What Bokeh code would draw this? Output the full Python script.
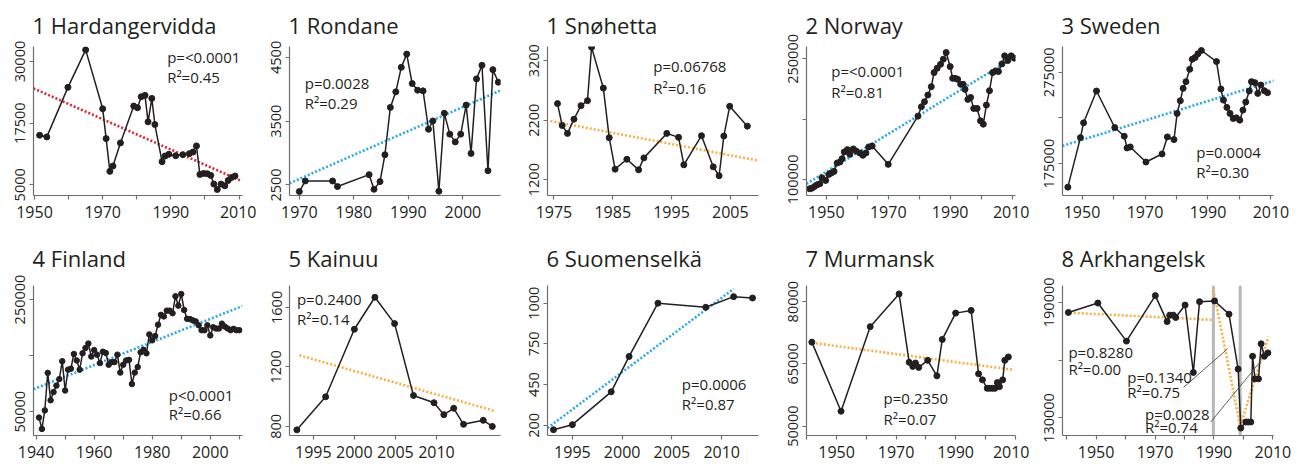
from bokeh.plotting import figure
from bokeh.models import Range1d, FixedTicker, Label, Span
from bokeh.layouts import column, row
from bokeh.embed import file_html
from bokeh.resources import INLINE

# ---------------- data ----------------
hard_year = [1951.5, 1953.6, 1959.8, 1965.0, 1970.0, 1971.0, 1972.1, 1973.0, 1975.2, 1979.1, 1980.2, 1981.3,
             1982.4, 1983.3, 1984.4, 1985.3, 1987.4, 1988.3, 1989.4, 1991.4, 1993.5, 1995.4, 1996.5, 1997.5,
             1998.5, 1999.6, 2000.7, 2001.7, 2002.6, 2003.6, 2004.7, 2005.8, 2006.8, 2007.8, 2008.8]
hard_count = [15050, 14710, 24760, 32360, 20410, 14370, 7720, 8800, 13490, 20960, 20620, 22860,
              23130, 17770, 22520, 17220, 9690, 10840, 11180, 10900, 11110, 11310, 11650, 12880,
              7100, 7310, 7240, 6900, 5140, 4050, 5140, 4800, 5880, 6490, 6770]
hard_trend_year = [1949.7, 2010.3]
hard_trend_count = [24555, 5883]

ron_year = [1970.0, 1971.1, 1976.1, 1977.0, 1982.8, 1983.7, 1984.8, 1985.7, 1986.7, 1987.7, 1988.7, 1989.7,
            1990.7, 1991.7, 1992.7, 1993.7, 1994.5, 1995.6, 1996.6, 1997.6, 1998.6, 1999.6, 2000.6, 2001.5,
            2002.5, 2003.5, 2004.6, 2005.5, 2006.5]
ron_count = [2396, 2562, 2562, 2474, 2661, 2432, 2552, 2973, 3716, 3960, 4344, 4552,
             4090, 3986, 3975, 3373, 3503, 2401, 3623, 3296, 3175, 3296, 3752, 2994,
             4163, 4376, 2723, 4308, 4111]
ron_trend_year = [1968.2, 2006.9]
ron_trend_count = [2526, 3981]

sno_year = [1975.6, 1976.4, 1977.3, 1978.4, 1979.6, 1980.7, 1981.4, 1983.4, 1984.4, 1985.4, 1987.4, 1989.4,
            1990.3, 1994.2, 1996.2, 1997.1, 2000.1, 2002.1, 2003.1, 2003.9, 2004.9, 2007.9]
sno_count = [2479, 2111, 1978, 2217, 2445, 2529, 3428, 2740, 1906, 1376, 1543, 1365,
             1566, 1978, 1911, 1449, 1939, 1415, 1265, 1933, 2434, 2100]
sno_trend_year = [1974.4, 2009.8]
sno_trend_count = [2187, 1519]

nor_year = [1944.6, 1945.4, 1946.2, 1947.0, 1947.9, 1948.6, 1949.8, 1950.8, 1951.6, 1952.5, 1953.5, 1954.4,
            1955.1, 1955.8, 1956.8, 1957.6, 1958.7, 1959.6, 1960.8, 1961.8, 1962.8, 1963.7, 1964.8, 1970.0,
            1979.6, 1980.7, 1981.7, 1982.8, 1983.9, 1984.8, 1985.8, 1986.9, 1987.8, 1988.7,
            1990.0, 1990.8, 1991.6, 1992.4, 1993.4, 1994.2, 1994.8, 1995.7, 1996.6, 1997.6, 1998.7, 1999.8,
            2000.7, 2001.7, 2002.7, 2003.7, 2004.7, 2005.6, 2006.7, 2007.6, 2008.6, 2009.7, 2010.7]
nor_count = [88330, 89170, 91250, 93330, 94580, 102080, 98750, 106250, 107920, 110000, 120420, 121670,
             125830, 134170, 137080, 131250, 137920, 135420, 132920, 130000, 132920, 140420, 141670, 118750,
             178750, 190420, 196670, 205000, 215420, 232920, 238330, 243330, 249580, 257920,
             240420, 225830, 225830, 224580, 218330, 218330, 212080, 199580, 202080, 188330, 188330, 172920,
             168750, 192500, 210420, 232920, 235000, 234170, 243750, 253750, 247920, 253750, 250830]
nor_trend_year = [1943.6, 2011.1]
nor_trend_count = [94583, 252917]

swe_year = [1945.5, 1949.5, 1950.5, 1954.6, 1960.4, 1963.4, 1964.3, 1965.3, 1970.3, 1975.4, 1977.1, 1979.2,
            1980.2, 1981.2, 1982.1, 1983.0, 1984.2, 1985.0, 1985.9, 1986.8, 1987.9, 1992.7, 1994.1, 1994.9,
            1996.0, 1997.0, 1998.0, 1999.0, 2000.1, 2001.1, 2002.0, 2003.1, 2003.8, 2004.9, 2005.8, 2006.8,
            2007.9, 2008.9]
swe_count = [149360, 203570, 219690, 254490, 214560, 205040, 192220, 193320, 176830, 185620, 204300, 201370,
             229950, 243860, 257420, 264740, 278300, 289290, 291120, 295150, 298810, 286720, 256680, 244600,
             236540, 229950, 224450, 225180, 222620, 233610, 242400, 254490, 264740, 263640, 251920, 261080,
             254850, 252660]
swe_trend_year = [1943.8, 2011.0]
swe_trend_count = [194410, 265840]

fin_year = list(range(1941, 2011))
fin_count = [39500, 19200, 52300, 119200, 70300, 84900, 96500, 108100, 140100, 87800,
             125000, 126700, 152900, 141300, 125000, 154100, 163400, 171500, 148300, 159900,
             151700, 136600, 157000, 154700, 133700, 138400, 138400, 151700, 119800, 133700,
             141300, 142400, 99400, 119800, 129700, 155800, 160500, 154100, 187800, 177300,
             184900, 205200, 222700, 219800, 230200, 230200, 225600, 255800, 239000, 259900,
             231400, 215700, 215100, 212800, 211000, 204100, 195300, 195300, 204100, 186000,
             200600, 198300, 198300, 207000, 201700, 198300, 195300, 197700, 195300, 195300]
fin_trend_year = [1939.1, 2011.1]
fin_trend_count = [90116, 238372]

kai_year = [1993.0, 1996.5, 2000.0, 2002.5, 2004.9, 2007.2, 2009.7, 2010.9, 2012.1, 2013.3, 2015.7, 2016.8]
kai_count = [777, 999, 1453, 1668, 1491, 1008, 959, 879, 922, 814, 841, 800]
kai_trend_year = [1993.3, 2017.2]
kai_trend_count = [1278, 902]

suo_year = [1993.1, 1995.0, 1998.9, 2000.7, 2003.6, 2008.4, 2011.2, 2013.1]
suo_count = [171, 204, 419, 651, 1000, 973, 1043, 1034]
suo_trend_year = [1992.5, 2011.2]
suo_trend_count = [182, 1094]

mur_year = [1941.7, 1951.5, 1961.3, 1971.0, 1974.4, 1975.6, 1976.5, 1977.6, 1980.6, 1983.7, 1985.5, 1990.0,
            1995.2, 1997.7, 1999.0, 2000.6, 2001.5, 2002.4, 2003.2, 2004.0, 2004.7, 2005.8, 2006.5, 2007.7]
mur_count = [70240, 53580, 73980, 81870, 65370, 64390, 65200, 64150, 65850, 62110, 70890, 77240,
             77890, 62600, 61140, 59110, 59110, 59110, 59110, 60490, 59510, 61140, 65850, 66670]
mur_trend_year = [1941.7, 2009.4]
mur_trend_count = [70081, 63577]

ark_year = [1940.6, 1950.6, 1960.3, 1970.1, 1974.1, 1975.0, 1976.2, 1977.0, 1980.2, 1983.0, 1985.1, 1990.2,
            1995.1, 1998.2, 1999.1, 2000.8, 2001.6, 2002.5, 2003.1, 2003.9, 2005.1, 2006.0, 2007.1, 2008.3]
ark_count = [184740, 189640, 169880, 193490, 180020, 183350, 183350, 182120, 188590, 153610, 190340, 190690,
             183870, 155360, 124750, 127900, 127900, 127900, 162010, 150290, 150290, 168480, 162010, 163760]
ark_trend1_year = [1939.7, 1989.4]
ark_trend1_count = [184744, 180900]
ark_trend2_year = [1989.8, 1999.1]
ark_trend2_count = [196637, 124400]
ark_trend3_year = [1998.6, 2008.5]
ark_trend3_count = [124400, 172150]
ark_breaks = [1989.8, 1998.9]

# tick labels
x_dec_1950 = [1950, 1960, 1970, 1980, 1990, 2000, 2010]
x_dec_1950_lab = ["1950", "", "1970", "", "1990", "", "2010"]
x_dec_1940 = [1940, 1950, 1960, 1970, 1980, 1990, 2000, 2010]
x_dec_1940_lab_a = ["1940", "", "1960", "", "1980", "", "2000", ""]
x_dec_1940_lab_b = ["", "1950", "", "1970", "", "1990", "", "2010"]

# ---------------- styling ----------------
FONT = "Open Sans"
INK = "#231f20"
AXIS = "#6d6e71"
RED = "#d9283a"
BLUE = "#29abe2"
ORANGE = "#f9b042"

col_w = [256, 258, 258, 257, 268]
col_lb = [33, 33, 33, 34, 33]
col_fw = [209, 211, 211, 209, 211]
row_h = [228, 237]
row_tb = [46, 57]
row_fh = [149, 150]
row_standoff = [14, 25]


def panel(r, c, title, xs, ys, trends, xr, yr, xticks, xlabels, yticks, ylabels, notes, msize=6):
    w, lb, fw = col_w[c], col_lb[c], col_fw[c]
    h, tb, fh = row_h[r], row_tb[r], row_fh[r]
    p = figure(width=w, height=h, x_range=Range1d(*xr), y_range=Range1d(*yr),
               output_backend="svg", toolbar_location=None,
               min_border_left=lb, min_border_right=w - lb - fw,
               min_border_top=tb, min_border_bottom=h - tb - fh)
    p.outline_line_color = None
    p.xgrid.visible = False
    p.ygrid.visible = False
    p.background_fill_color = "white"
    p.border_fill_color = "white"

    p.title.text = title
    p.title.text_font = FONT
    p.title.text_font_size = "22px"
    p.title.text_font_style = "normal"
    p.title.text_color = INK
    p.title.align = "left"
    p.title.offset = -1
    p.title.standoff = row_standoff[r]

    for ax in (p.xaxis[0], p.yaxis[0]):
        ax.axis_line_color = AXIS
        ax.axis_line_width = 1.2
        ax.major_tick_line_color = AXIS
        ax.major_tick_line_width = 1.2
        ax.major_tick_in = 0
        ax.major_tick_out = 4
        ax.minor_tick_line_color = None
        ax.major_label_text_font = FONT
        ax.major_label_text_color = INK
    p.xaxis[0].ticker = FixedTicker(ticks=xticks)
    p.xaxis[0].major_label_overrides = {t: l for t, l in zip(xticks, xlabels)}
    p.xaxis[0].major_label_text_font_size = "16px"
    p.xaxis[0].major_label_standoff = 6
    p.yaxis[0].ticker = FixedTicker(ticks=yticks)
    p.yaxis[0].major_label_overrides = {t: l for t, l in zip(yticks, ylabels)}
    p.yaxis[0].major_label_text_font_size = "14.5px"
    p.yaxis[0].major_label_orientation = "vertical"
    p.yaxis[0].major_label_standoff = 4

    for tx, ty, colr in trends:
        p.line(tx, ty, line_color=colr, line_width=2.6, line_dash="2 2")
    p.line(xs, ys, line_color=INK, line_width=1.5)
    p.scatter(xs, ys, size=msize, fill_color=INK, line_color=INK)

    for (nx, ny, txt) in notes:
        p.add_layout(Label(x=nx, y=ny, text=txt, text_font=FONT, text_font_size="15px",
                           text_color=INK, text_baseline="middle", text_align="left"))
    return p


p1 = panel(0, 0, "1 Hardangervidda", hard_year, hard_count, [(hard_trend_year, hard_trend_count, RED)],
           (1949.7, 2011.0), (2827, 33043), x_dec_1950, x_dec_1950_lab,
           [5000, 17500, 30000], ["5000", "17500", "30000"],
           [(1988.9, 31006, "p=<0.0001"), (1988.9, 26932, "R²=0.45")])
p2 = panel(0, 1, "1 Rondane", ron_year, ron_count, [(ron_trend_year, ron_trend_count, BLUE)],
           (1968.2, 2006.9), (2334, 4671), [1970, 1980, 1990, 2000], ["1970", "1980", "1990", "2000"],
           [2500, 3500, 4500], ["2500", "3500", "4500"],
           [(1971.0, 4100, "p=0.0028"), (1971.0, 3788, "R²=0.29")])
p3 = panel(0, 2, "1 Snøhetta", sno_year, sno_count, [(sno_trend_year, sno_trend_count, ORANGE)],
           (1973.9, 2009.8), (933, 3440), [1975, 1985, 1995, 2005], ["1975", "1985", "1995", "2005"],
           [1200, 2200, 3200], ["1200", "2200", "3200"],
           [(1991.9, 3105, "p=0.06768"), (1991.9, 2743, "R²=0.16")])
p4 = panel(0, 3, "2 Norway", nor_year, nor_count, [(nor_trend_year, nor_trend_count, BLUE)],
           (1943.6, 2011.1), (80000, 265400), x_dec_1950, x_dec_1950_lab,
           [100000, 175000, 250000], ["100000", "", "250000"],
           [(1951.6, 235000, "p=<0.0001"), (1951.6, 209170, "R²=0.81")])
p5 = panel(0, 4, "3 Sweden", swe_year, swe_count, [(swe_trend_year, swe_trend_count, BLUE)],
           (1943.8, 2010.8), (140200, 303200), x_dec_1950, x_dec_1950_lab,
           [175000, 225000, 275000], ["175000", "", "275000"],
           [(1986.3, 187820, "p=0.0004"), (1986.3, 165840, "R²=0.30")])

p6 = panel(1, 0, "4 Finland", fin_year, fin_count, [(fin_trend_year, fin_trend_count, BLUE)],
           (1939.1, 2011.1), (7558, 275000), x_dec_1940, x_dec_1940_lab_a,
           [50000, 150000, 250000], ["50000", "", "250000"],
           [(1985.7, 80233, "p<0.0001"), (1985.7, 45349, "R²=0.66")], msize=5.5)
p7 = panel(1, 1, "5 Kainuu", kai_year, kai_count, [(kai_trend_year, kai_trend_count, ORANGE)],
           (1992.1, 2017.8), (739, 1747), [1995, 2000, 2005, 2010], ["1995", "2000", "2005", "2010"],
           [800, 1200, 1600], ["800", "1200", "1600"],
           [(1993.0, 1657, "p=0.2400"), (1993.0, 1521, "R²=0.14")])
suo_ticks = [200, 200 + 800 / 3, 200 + 1600 / 3, 1000]
p8 = panel(1, 2, "6 Suomenselkä", suo_year, suo_count, [(suo_trend_year, suo_trend_count, BLUE)],
           (1992.5, 2013.7), (133, 1116), [1995, 2000, 2005, 2010], ["1995", "2000", "2005", "2010"],
           suo_ticks, ["200", "450", "750", "1000"],
           [(2006.0, 468, "p=0.0006"), (2006.0, 339, "R²=0.87")])
p9 = panel(1, 3, "7 Murmansk", mur_year, mur_count, [(mur_trend_year, mur_trend_count, ORANGE)],
           (1939.9, 2010.1), (47724, 83900), x_dec_1940, x_dec_1940_lab_b,
           [50000, 65000, 80000], ["50000", "65000", "80000"],
           [(1965.8, 56667, "p=0.2350"), (1965.8, 51789, "R²=0.07")])
p10 = panel(1, 4, "8 Arkhangelsk", ark_year, ark_count,
            [(ark_trend1_year, ark_trend1_count, ORANGE), (ark_trend2_year, ark_trend2_count, ORANGE),
             (ark_trend3_year, ark_trend3_count, ORANGE)],
            (1938.6, 2010.2), (120905, 198736), x_dec_1940, x_dec_1940_lab_b,
            [130000, 160000, 190000], ["130000", "", "190000"],
            [(1940.6, 164106, "p=0.8280"), (1940.6, 155360, "R²=0.00"),
             (1960.6, 151513, "p=0.1340"), (1960.6, 143642, "R²=0.75"),
             (1966.6, 132274, "p=0.0028"), (1966.6, 125278, "R²=0.74")])
for b in ark_breaks:
    p10.add_layout(Span(location=b, dimension="height", line_color="#b8b8b8", line_width=3, level="underlay"))
p10.line([1979.7, 1994.6], [145916, 165855], line_color="#4d4d4f", line_width=0.9)
p10.line([1988.9, 2006.0], [127901, 159733], line_color="#4d4d4f", line_width=0.9)

layout = column(row(p1, p2, p3, p4, p5), row(p6, p7, p8, p9, p10))
open("out.html", "w").write(file_html(layout, INLINE))
